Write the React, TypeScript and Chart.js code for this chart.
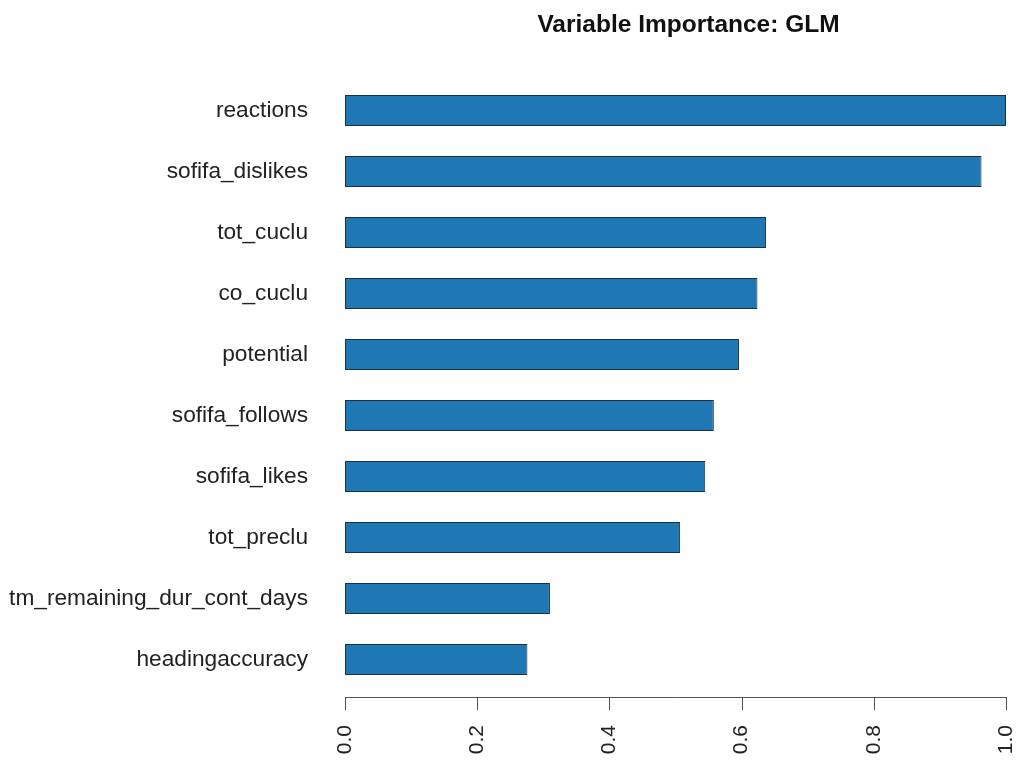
import React, { useEffect, useRef } from "react";
import { Chart, registerables } from "chart.js";

Chart.register(...registerables);

const TITLE = "Variable Importance: GLM";
const categories = [
  "reactions",
  "sofifa_dislikes",
  "tot_cuclu",
  "co_cuclu",
  "potential",
  "sofifa_follows",
  "sofifa_likes",
  "tot_preclu",
  "tm_remaining_dur_cont_days",
  "headingaccuracy",
];
const importance = [1.0, 0.963, 0.637, 0.624, 0.596, 0.558, 0.545, 0.507, 0.31, 0.276];
const xTicks = [0, 0.2, 0.4, 0.6, 0.8, 1.0];

const FONT = "'Liberation Sans', Arial, Helvetica, sans-serif";

const rAxisPlugin = {
  id: "rAxis",
  afterDraw(chart: any) {
    const { ctx, chartArea, scales } = chart;
    const xs = scales.x;
    const y0 = chartArea.bottom + 7;
    ctx.save();
    ctx.strokeStyle = "#555";
    ctx.lineWidth = 1;
    ctx.beginPath();
    ctx.moveTo(xs.getPixelForValue(xTicks[0]), y0 + 0.5);
    ctx.lineTo(xs.getPixelForValue(xTicks[xTicks.length - 1]), y0 + 0.5);
    xTicks.forEach((t) => {
      const px = Math.round(xs.getPixelForValue(t)) + 0.5;
      ctx.moveTo(px, y0);
      ctx.lineTo(px, y0 + 13);
    });
    ctx.stroke();
    // title
    ctx.fillStyle = "#111";
    ctx.font = `bold 24.5px ${FONT}`;
    ctx.textAlign = "center";
    ctx.textBaseline = "alphabetic";
    ctx.fillText(TITLE, (chartArea.left + chartArea.right) / 2 + 13, 32);
    ctx.restore();
  },
};

export default function App() {
  const ref = useRef<HTMLCanvasElement | null>(null);
  useEffect(() => {
    document.body.style.margin = "0";
    const canvas = ref.current;
    if (!canvas) return;
    const chart = new Chart(canvas, {
      type: "bar",
      data: {
        labels: categories,
        datasets: [
          {
            data: importance,
            backgroundColor: "#1F77B4",
            borderColor: "#1d2f42",
            borderWidth: 1,
            borderSkipped: false,
            barPercentage: 0.51,
            categoryPercentage: 1,
          },
        ],
      },
      options: {
        indexAxis: "y",
        responsive: false,
        animation: false,
        maintainAspectRatio: false,
        layout: { padding: { top: 80, right: 13, left: 0, bottom: 0 } },
        plugins: {
          legend: { display: false },
          title: { display: false },
          tooltip: { enabled: false },
        },
        scales: {
          x: {
            type: "linear",
            min: 0,
            max: 1,
            position: "bottom",
            afterBuildTicks: (scale: any) => {
              scale.ticks = xTicks.map((v) => ({ value: v }));
            },
            ticks: {
              callback: (v: any) => Number(v).toFixed(1),
              minRotation: 90,
              maxRotation: 90,
              padding: 27,
              color: "#222",
              font: { family: FONT, size: 21 },
            },
            grid: { display: false },
            border: { display: false },
            afterFit: (scale: any) => {
              scale.height = 70;
              scale.paddingLeft = 0;
              scale.paddingRight = 0;
            },
          },
          y: {
            type: "category",
            grid: { display: false },
            border: { display: false },
            ticks: {
              padding: 29,
              color: "#222",
              font: { family: FONT, size: 22.7 },
            },
            afterFit: (scale: any) => {
              scale.width = 345;
              scale.paddingTop = 0;
              scale.paddingBottom = 0;
            },
          },
        },
      },
      plugins: [rAxisPlugin],
    });
    return () => chart.destroy();
  }, []);
  return (
    <div style={{ position: "absolute", left: 0, top: 0, width: 1019, height: 760, background: "#fff" }}>
      <canvas ref={ref} width={1019} height={760} style={{ display: "block" }} />
    </div>
  );
}
